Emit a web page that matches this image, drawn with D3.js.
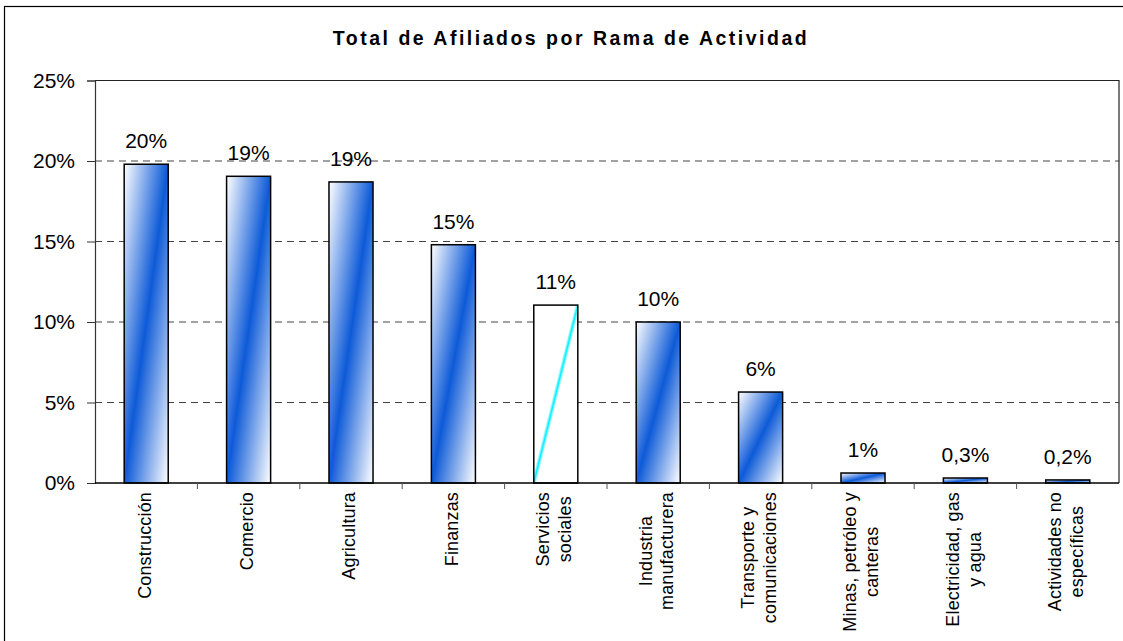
<!DOCTYPE html>
<html>
<head>
<meta charset="utf-8">
<script src="https://cdn.jsdelivr.net/npm/d3@7"></script>
<style>
  body { margin: 0; background: #fff; }
  svg { font-family: "Liberation Sans", Arial, sans-serif; }
</style>
</head>
<body>
<div id="chart"></div>
<script>
// Datos del gráfico
const categories = [
    ["Construcción"],
    ["Comercio"],
    ["Agricultura"],
    ["Finanzas"],
    ["Servicios", "sociales"],
    ["Industria", "manufacturera"],
    ["Transporte y", "comunicaciones"],
    ["Minas, petróleo y", "canteras"],
    ["Electricidad, gas", "y agua"],
    ["Actividades no", "específicas"]
];
const values = [19.8, 19.05, 18.7, 14.8, 11.05, 10.0, 5.65, 0.62, 0.31, 0.19];
const valueLabels = ["20%", "19%", "19%", "15%", "11%", "10%", "6%", "1%", "0,3%", "0,2%"];
const yTicks = [0, 5, 10, 15, 20, 25];
const highlighted = "Servicios";

const W = 1123, H = 641;
const margin = { top: 80.5, right: 4, bottom: 158, left: 95 };
const width = W - margin.left - margin.right;
const height = H - margin.top - margin.bottom;

const root = d3.select("#chart")
    .append("svg")
    .attr("width", W)
    .attr("height", H);

// Degradados (diagonal)
const defs = root.append("defs");
const gBlue = defs.append("linearGradient")
    .attr("id", "gradBlue")
    .attr("x1", 0).attr("y1", 0).attr("x2", 1).attr("y2", 1);
gBlue.append("stop").attr("offset", 0).attr("stop-color", "#ffffff");
gBlue.append("stop").attr("offset", 0.5).attr("stop-color", "#0d5ad8");
gBlue.append("stop").attr("offset", 1).attr("stop-color", "#ffffff");

const gCyan = defs.append("linearGradient")
    .attr("id", "gradCyan")
    .attr("x1", 0).attr("y1", 0).attr("x2", 1).attr("y2", 1);
[[0, "#ffffff"], [0.47, "#ffffff"], [0.5, "#00f0ff"], [0.53, "#ffffff"], [1, "#ffffff"]]
    .forEach(s => gCyan.append("stop").attr("offset", s[0]).attr("stop-color", s[1]));

// Borde exterior
root.append("rect")
    .attr("x", 4.5).attr("y", 6.5)
    .attr("width", 1130).attr("height", 650)
    .attr("fill", "none")
    .attr("stroke", "#000")
    .attr("stroke-width", 1.2);

// Título
root.append("text")
    .attr("x", 571)
    .attr("y", 45)
    .attr("text-anchor", "middle")
    .style("font-size", "19.5px")
    .style("font-weight", "bold")
    .style("letter-spacing", "2.5px")
    .text("Total de Afiliados por Rama de Actividad");

const svg = root.append("g")
    .attr("transform", `translate(${margin.left}, ${margin.top})`);

// Escalas
const xScale = d3.scaleBand()
    .domain(categories.map(d => d[0]))
    .range([0, width])
    .paddingInner(0.57)
    .paddingOuter(0.285);

const yScale = d3.scaleLinear()
    .domain([0, 25])
    .range([height, 0]);

// Líneas de cuadrícula
svg.selectAll(".grid")
    .data(yTicks.filter(t => t > 0 && t < 25))
    .enter().append("line")
    .attr("x1", 0).attr("x2", width)
    .attr("y1", d => yScale(d)).attr("y2", d => yScale(d))
    .attr("stroke", "#444")
    .attr("stroke-width", 1)
    .attr("stroke-dasharray", "7,5");

// Borde superior y derecho del área de trazado
svg.append("path")
    .attr("d", `M0,${yScale(25)}H${width}V${height}`)
    .attr("fill", "none")
    .attr("stroke", "#222")
    .attr("stroke-width", 1.2);

// Eje Y
const yAxis = svg.append("g")
    .call(d3.axisLeft(yScale).tickValues(yTicks).tickSize(8).tickFormat(d => d + "%"));
yAxis.select(".domain").attr("stroke", "#333").attr("stroke-width", 1.2);
yAxis.selectAll(".tick line").attr("stroke", "#333");
yAxis.selectAll("text")
    .attr("x", -20)
    .style("font-size", "21px")
    .attr("fill", "#000");

// Barras
svg.selectAll(".bar")
    .data(values)
    .enter().append("rect")
    .attr("class", "bar")
    .attr("x", (d, i) => xScale(categories[i][0]))
    .attr("y", d => yScale(d))
    .attr("width", xScale.bandwidth())
    .attr("height", d => height - yScale(d))
    .attr("fill", (d, i) => categories[i][0] === highlighted ? "url(#gradCyan)" : "url(#gradBlue)")
    .attr("stroke", "#000")
    .attr("stroke-width", 1.5);

// Etiquetas de valor
svg.selectAll(".vlabel")
    .data(values)
    .enter().append("text")
    .attr("x", (d, i) => xScale(categories[i][0]) + xScale.bandwidth() / 2)
    .attr("y", d => yScale(d) - 16)
    .attr("text-anchor", "middle")
    .style("font-size", "21px")
    .text((d, i) => valueLabels[i]);

// Eje X (marcas entre categorías)
const step = xScale.step();
svg.append("line")
    .attr("x1", 0).attr("x2", width)
    .attr("y1", height).attr("y2", height)
    .attr("stroke", "#000")
    .attr("stroke-width", 1.5);
svg.selectAll(".xtick")
    .data(d3.range(1, categories.length))
    .enter().append("line")
    .attr("x1", d => d * step).attr("x2", d => d * step)
    .attr("y1", height).attr("y2", height + 6)
    .attr("stroke", "#555");

// Etiquetas del eje X, giradas
const lineH = 22;
categories.forEach(lines => {
    const cx = xScale(lines[0]) + xScale.bandwidth() / 2;
    const g = svg.append("g")
        .attr("transform", `translate(${cx - 2}, ${height + 9}) rotate(-90)`);
    const texts = lines.map((l, i) => g.append("text")
        .attr("y", (i - (lines.length - 1) / 2) * lineH)
        .attr("dy", "0.35em")
        .attr("text-anchor", "middle")
        .style("font-size", "18px")
        .style("letter-spacing", "0.15px")
        .text(l));
    const maxLen = d3.max(texts, t => t.node().getComputedTextLength());
    texts.forEach(t => t.attr("x", -maxLen / 2));
});
</script>
</body>
</html>
